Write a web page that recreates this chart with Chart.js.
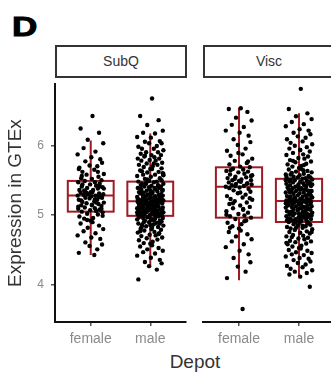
<!DOCTYPE html>
<html>
<head>
<meta charset="utf-8">
<script src="https://cdn.jsdelivr.net/npm/chart.js@4.4.1/dist/chart.umd.min.js"></script>
<style>
  body { margin:0; width:331px; height:379px; overflow:hidden; background:#fff; position:relative;
         font-family:"Liberation Sans", Arial, sans-serif; }
  .abs { position:absolute; }
  #letter { left:12px; top:13px; font-size:28px; font-weight:bold; line-height:28px; color:#000;
            transform:scaleX(1.25); transform-origin:left top; -webkit-text-stroke:1px #000; }
  .strip { top:45px; width:132px; height:33px; border:2px solid #333; box-sizing:border-box; background:#fff;
           text-align:center; line-height:29px; font-size:14px; color:#333; }
  #xTitle { left:0; width:390px; top:351px; text-align:center; font-size:19px; color:#333; }
</style>
</head>
<body>
<div id="letter" class="abs">D</div>
<div class="abs strip" style="left:55px">SubQ</div>
<div class="abs strip" style="left:203px">Visc</div>
<div id="xTitle" class="abs">Depot</div>
<canvas id="subq" class="abs" width="190" height="282" style="left:0;top:70px"></canvas>
<canvas id="visc" class="abs" width="150" height="282" style="left:195px;top:70px"></canvas>
<script>
const depots = ["female", "male"];
const yTicks = [4, 5, 6];

// box stats: [whiskerLow, q1, median, q3, whiskerHigh]
const subqBoxes = [[4.43, 5.05, 5.28, 5.49, 6.07], [4.26, 4.99, 5.20, 5.48, 6.17]];
const viscBoxes = [[4.05, 4.92, 5.35, 5.62, 6.45], [4.10, 4.86, 5.15, 5.46, 6.37]];

// points (expression values)
const subqFemale = [6.42, 6.24, 6.18, 6.08, 6.03, 5.96, 5.91, 5.87, 5.83, 5.80,
  5.77, 5.75, 5.71, 5.70, 5.66, 5.65, 5.62, 5.59, 5.58, 5.55, 5.53, 5.52, 5.50,
  5.49, 5.47, 5.47, 5.45, 5.44, 5.42, 5.41, 5.40, 5.39, 5.38, 5.36, 5.36, 5.35, 5.33, 5.33, 5.32, 5.31, 5.30, 5.30, 5.29, 5.28, 5.28,
  5.27, 5.26, 5.25, 5.25, 5.24, 5.22, 5.22, 5.20, 5.19, 5.18, 5.17, 5.16, 5.14, 5.14, 5.13, 5.11, 5.10, 5.09, 5.08, 5.07, 5.06, 5.05,
  5.04, 5.02, 5.01, 4.98, 4.96, 4.95, 4.92, 4.90, 4.88, 4.85, 4.82, 4.80, 4.77, 4.74, 4.71,
  4.68, 4.66, 4.61, 4.58, 4.56, 4.51, 4.46, 4.43,
  5.44, 5.38, 5.32, 5.26, 5.21, 5.15, 5.09, 5.35, 5.23, 5.12, 5.41, 5.29, 5.18, 5.56, 4.99, 4.93, 5.62, 5.68];
const subqMale = [6.67, 6.42, 6.36, 6.29, 6.21, 6.18, 6.17, 6.12, 6.11, 6.06,
  6.05, 6.03, 6.03, 5.99, 5.98, 5.95, 5.95, 5.93, 5.90, 5.90, 5.88, 5.86, 5.86, 5.84, 5.83, 5.81, 5.81, 5.79,
  5.78, 5.78, 5.75, 5.74, 5.72, 5.72, 5.70, 5.69, 5.66, 5.66, 5.64, 5.62, 5.61, 5.60, 5.58, 5.58, 5.56, 5.55, 5.53, 5.52, 5.50, 5.49,
  5.48, 5.48, 5.47, 5.45, 5.45, 5.45, 5.43, 5.43, 5.42, 5.41, 5.41, 5.39, 5.39, 5.39, 5.37, 5.37, 5.36, 5.35, 5.35, 5.34,
  5.33, 5.33, 5.32, 5.31, 5.31, 5.31, 5.29, 5.29, 5.28, 5.28, 5.27, 5.26, 5.26, 5.25, 5.25, 5.24, 5.24, 5.23, 5.23, 5.22,
  5.22, 5.21, 5.21, 5.21, 5.20, 5.20, 5.20, 5.19, 5.19, 5.19,
  5.18, 5.18, 5.17, 5.17, 5.17, 5.16, 5.15, 5.15, 5.14, 5.14, 5.14, 5.13, 5.12, 5.12, 5.11, 5.11, 5.10, 5.10, 5.10, 5.09,
  5.08, 5.08, 5.07, 5.07, 5.06, 5.06, 5.05, 5.05, 5.04, 5.04, 5.03, 5.03, 5.02, 5.02, 5.01, 5.01, 5.01, 5.00, 5.00, 4.99,
  4.99, 4.99, 5.16, 5.13, 5.09, 5.06, 5.03, 5.12, 5.15, 5.18,
  4.98, 4.97, 4.96, 4.96, 4.95, 4.94, 4.93, 4.92, 4.92, 4.91, 4.90, 4.89, 4.88, 4.87, 4.86, 4.85, 4.84, 4.83, 4.81, 4.80,
  4.79, 4.78, 4.76, 4.75, 4.74, 4.72, 4.71, 4.70, 4.68, 4.67, 4.65, 4.64, 4.62, 4.60, 4.59, 4.57, 4.55, 4.53, 4.51, 4.49,
  4.47, 4.45, 4.42, 4.39, 4.36, 4.33, 4.31, 4.27, 4.22, 4.08,
  5.74, 5.63, 5.57, 5.46, 5.42, 5.38, 5.34, 5.30, 5.27, 5.24, 5.22, 5.19, 5.16, 5.13, 5.11, 5.08, 5.05, 5.02, 4.97, 4.94,
  4.90, 4.86, 4.82, 4.77, 4.73, 5.51, 5.36, 5.25, 5.14, 5.04, 4.95, 4.88, 5.85, 5.67, 5.40, 5.21, 5.09, 4.93, 4.84, 5.59];
const viscFemale = [6.44, 6.43, 6.39, 6.31, 6.27, 6.21, 6.18, 6.13, 6.10, 6.06, 6.01, 5.97, 5.93, 5.88, 5.85, 5.80, 5.78, 5.74, 5.71, 5.68, 5.66, 5.63,
  5.62, 5.60, 5.59, 5.57, 5.56, 5.55, 5.53, 5.52, 5.50, 5.49, 5.48, 5.47, 5.45, 5.44, 5.43, 5.42, 5.41, 5.40, 5.39, 5.38, 5.37, 5.36, 5.35,
  5.34, 5.32, 5.30, 5.28, 5.26, 5.24, 5.22, 5.20, 5.18, 5.17, 5.15, 5.13, 5.11, 5.09, 5.07, 5.05, 5.03, 5.01, 4.99, 4.97, 4.95, 4.94, 4.92,
  4.90, 4.88, 4.85, 4.83, 4.80, 4.77, 4.74, 4.72, 4.69, 4.66, 4.62, 4.59, 4.55, 4.51, 4.46, 4.41, 4.36, 4.30, 4.24, 4.17, 4.08, 3.65,
  5.58, 5.51, 5.46, 5.39, 5.33, 5.27, 5.19, 5.12, 5.04, 4.96, 5.70, 5.82, 4.87, 4.78, 5.44, 5.36];
const viscMale = [6.71, 6.43, 6.37, 6.33, 6.29, 6.25, 6.22, 6.19, 6.15, 6.13, 6.10, 6.08, 6.05, 6.03, 6.01, 5.98, 5.96, 5.94, 5.92, 5.90,
  5.88, 5.86, 5.84, 5.82, 5.80, 5.79, 5.77, 5.75, 5.74, 5.72, 5.70, 5.69, 5.67, 5.66, 5.64, 5.63, 5.61, 5.60, 5.59, 5.57,
  5.56, 5.55, 5.54, 5.53, 5.52, 5.51, 5.50, 5.49, 5.48, 5.48, 5.47, 5.46,
  5.46, 5.45, 5.45, 5.44, 5.43, 5.43, 5.42, 5.41, 5.41, 5.40, 5.39, 5.39, 5.38, 5.37, 5.37, 5.36, 5.35, 5.35, 5.34, 5.33,
  5.33, 5.32, 5.31, 5.31, 5.30, 5.29, 5.29, 5.28, 5.27, 5.27, 5.26, 5.25, 5.25, 5.24, 5.23, 5.23, 5.22, 5.21, 5.21, 5.20,
  5.19, 5.19, 5.18, 5.18, 5.17, 5.17, 5.16, 5.16, 5.15, 5.15, 5.15, 5.15,
  5.14, 5.14, 5.13, 5.13, 5.12, 5.11, 5.11, 5.10, 5.10, 5.09, 5.08, 5.08, 5.07, 5.06, 5.06, 5.05, 5.04, 5.04, 5.03, 5.02,
  5.02, 5.01, 5.00, 5.00, 4.99, 4.98, 4.98, 4.97, 4.96, 4.96, 4.95, 4.94, 4.94, 4.93, 4.92, 4.92, 4.91, 4.90, 4.90, 4.89,
  4.89, 4.88, 4.88, 4.87, 4.87, 4.86, 4.86, 4.86, 4.95, 4.99, 5.07, 5.12,
  4.85, 4.84, 4.83, 4.82, 4.81, 4.80, 4.79, 4.78, 4.77, 4.76, 4.75, 4.73, 4.72, 4.71, 4.70, 4.68, 4.67, 4.66, 4.64, 4.63,
  4.62, 4.60, 4.59, 4.58, 4.56, 4.55, 4.53, 4.52, 4.50, 4.49, 4.47, 4.46, 4.44, 4.43, 4.41, 4.40, 4.38, 4.36, 4.35, 4.33,
  4.31, 4.29, 4.27, 4.25, 4.23, 4.21, 4.19, 4.17, 4.15, 4.13, 4.10, 3.96,
  5.71, 5.58, 5.49, 5.42, 5.36, 5.31, 5.27, 5.22, 5.18, 5.14, 5.09, 5.05, 5.01, 4.97, 4.93, 4.89, 4.84, 4.78, 4.72, 4.65,
  5.65, 5.44, 5.33, 5.24, 5.17, 5.11, 5.03, 4.95, 4.88, 4.81, 5.52, 5.38, 5.20, 5.06, 4.91, 5.86, 5.29, 5.12, 4.99, 4.57];

// horizontal jitter (in category units), reused along each group
const jitter = [0.03, -0.17, 0.14, -0.05, 0.21, -0.12, 0.08, -0.22, 0.01, 0.16, -0.09, 0.19, -0.02, 0.11,
  -0.20, 0.06, -0.14, 0.22, -0.07, 0.13, -0.16, 0.02, 0.18, -0.10, 0.07, -0.21, 0.15, -0.01, 0.09, -0.15,
  0.20, -0.06, 0.12, -0.19, 0.04, -0.11, 0.00];

const boxRed = "#9e1b24";
const tickGrey = "#8a8a8a";

function toPoints(values, pos) {
  return values.map((v, i) => ({ x: pos + jitter[i % jitter.length], y: v }));
}

const boxPlugin = {
  id: "boxes",
  beforeDatasetsDraw(chart, args, opts) {
    const { ctx, scales: { x, y } } = chart;
    ctx.save();
    ctx.strokeStyle = boxRed;
    ctx.lineWidth = 2;
    opts.stats.forEach((s, i) => {
      const cx = x.getPixelForValue(i + 1);
      const half = (x.getPixelForValue(i + 1 + 0.385) - cx);
      const [lo, q1, med, q3, hi] = s.map(v => y.getPixelForValue(v));
      ctx.beginPath();
      ctx.moveTo(cx, lo); ctx.lineTo(cx, q1);
      ctx.moveTo(cx, q3); ctx.lineTo(cx, hi);
      ctx.stroke();
      ctx.strokeRect(cx - half, q3, half * 2, q1 - q3);
      ctx.beginPath();
      ctx.moveTo(cx - half, med); ctx.lineTo(cx + half, med);
      ctx.stroke();
    });
    ctx.restore();
  }
};

function makeChart(id, female, male, stats, showY) {
  return new Chart(document.getElementById(id), {
    type: "scatter",
    data: {
      datasets: [
        { data: toPoints(female, 1) },
        { data: toPoints(male, 2) }
      ]
    },
    plugins: [boxPlugin],
    options: {
      responsive: false,
      animation: false,
      events: [],
      layout: { padding: showY ? { top: 7, right: 3, left: 0, bottom: 0 } : { top: 7, right: 10, left: 8, bottom: 0 } },
      elements: { point: { radius: 2.2, borderWidth: 0, backgroundColor: "#000" } },
      plugins: { legend: { display: false }, tooltip: { enabled: false }, boxes: { stats } },
      scales: {
        x: {
          type: "linear", min: 0.4, max: 2.6,
          afterBuildTicks: s => { s.ticks = [{ value: 1 }, { value: 2 }]; },
          afterFit: s => { s.height = 30; },
          grid: { drawOnChartArea: false, tickLength: 4, color: "#555", lineWidth: 1.5 },
          border: { color: "#111", width: 2 },
          ticks: { padding: 5, color: tickGrey, font: { size: 14, family: "Liberation Sans" },
                   callback: (v, i) => depots[i] }
        },
        y: {
          display: showY,
          min: 3.47, max: 6.875,
          afterBuildTicks: s => { s.ticks = yTicks.map(v => ({ value: v })); },
          afterFit: s => { s.width = showY ? 55 : 0; },
          grid: { drawOnChartArea: false, tickLength: 4, color: "#555", lineWidth: 1.5 },
          border: { color: "#111", width: 2 },
          ticks: { padding: 7, color: tickGrey, font: { size: 12, family: "Liberation Sans" } },
          title: { display: true, text: "Expression in GTEx", color: "#333",
                   font: { size: 19, family: "Liberation Sans" }, padding: { top: 4, bottom: 4 } }
        }
      }
    }
  });
}

makeChart("subq", subqFemale, subqMale, subqBoxes, true);
makeChart("visc", viscFemale, viscMale, viscBoxes, false);
</script>
</body>
</html>
